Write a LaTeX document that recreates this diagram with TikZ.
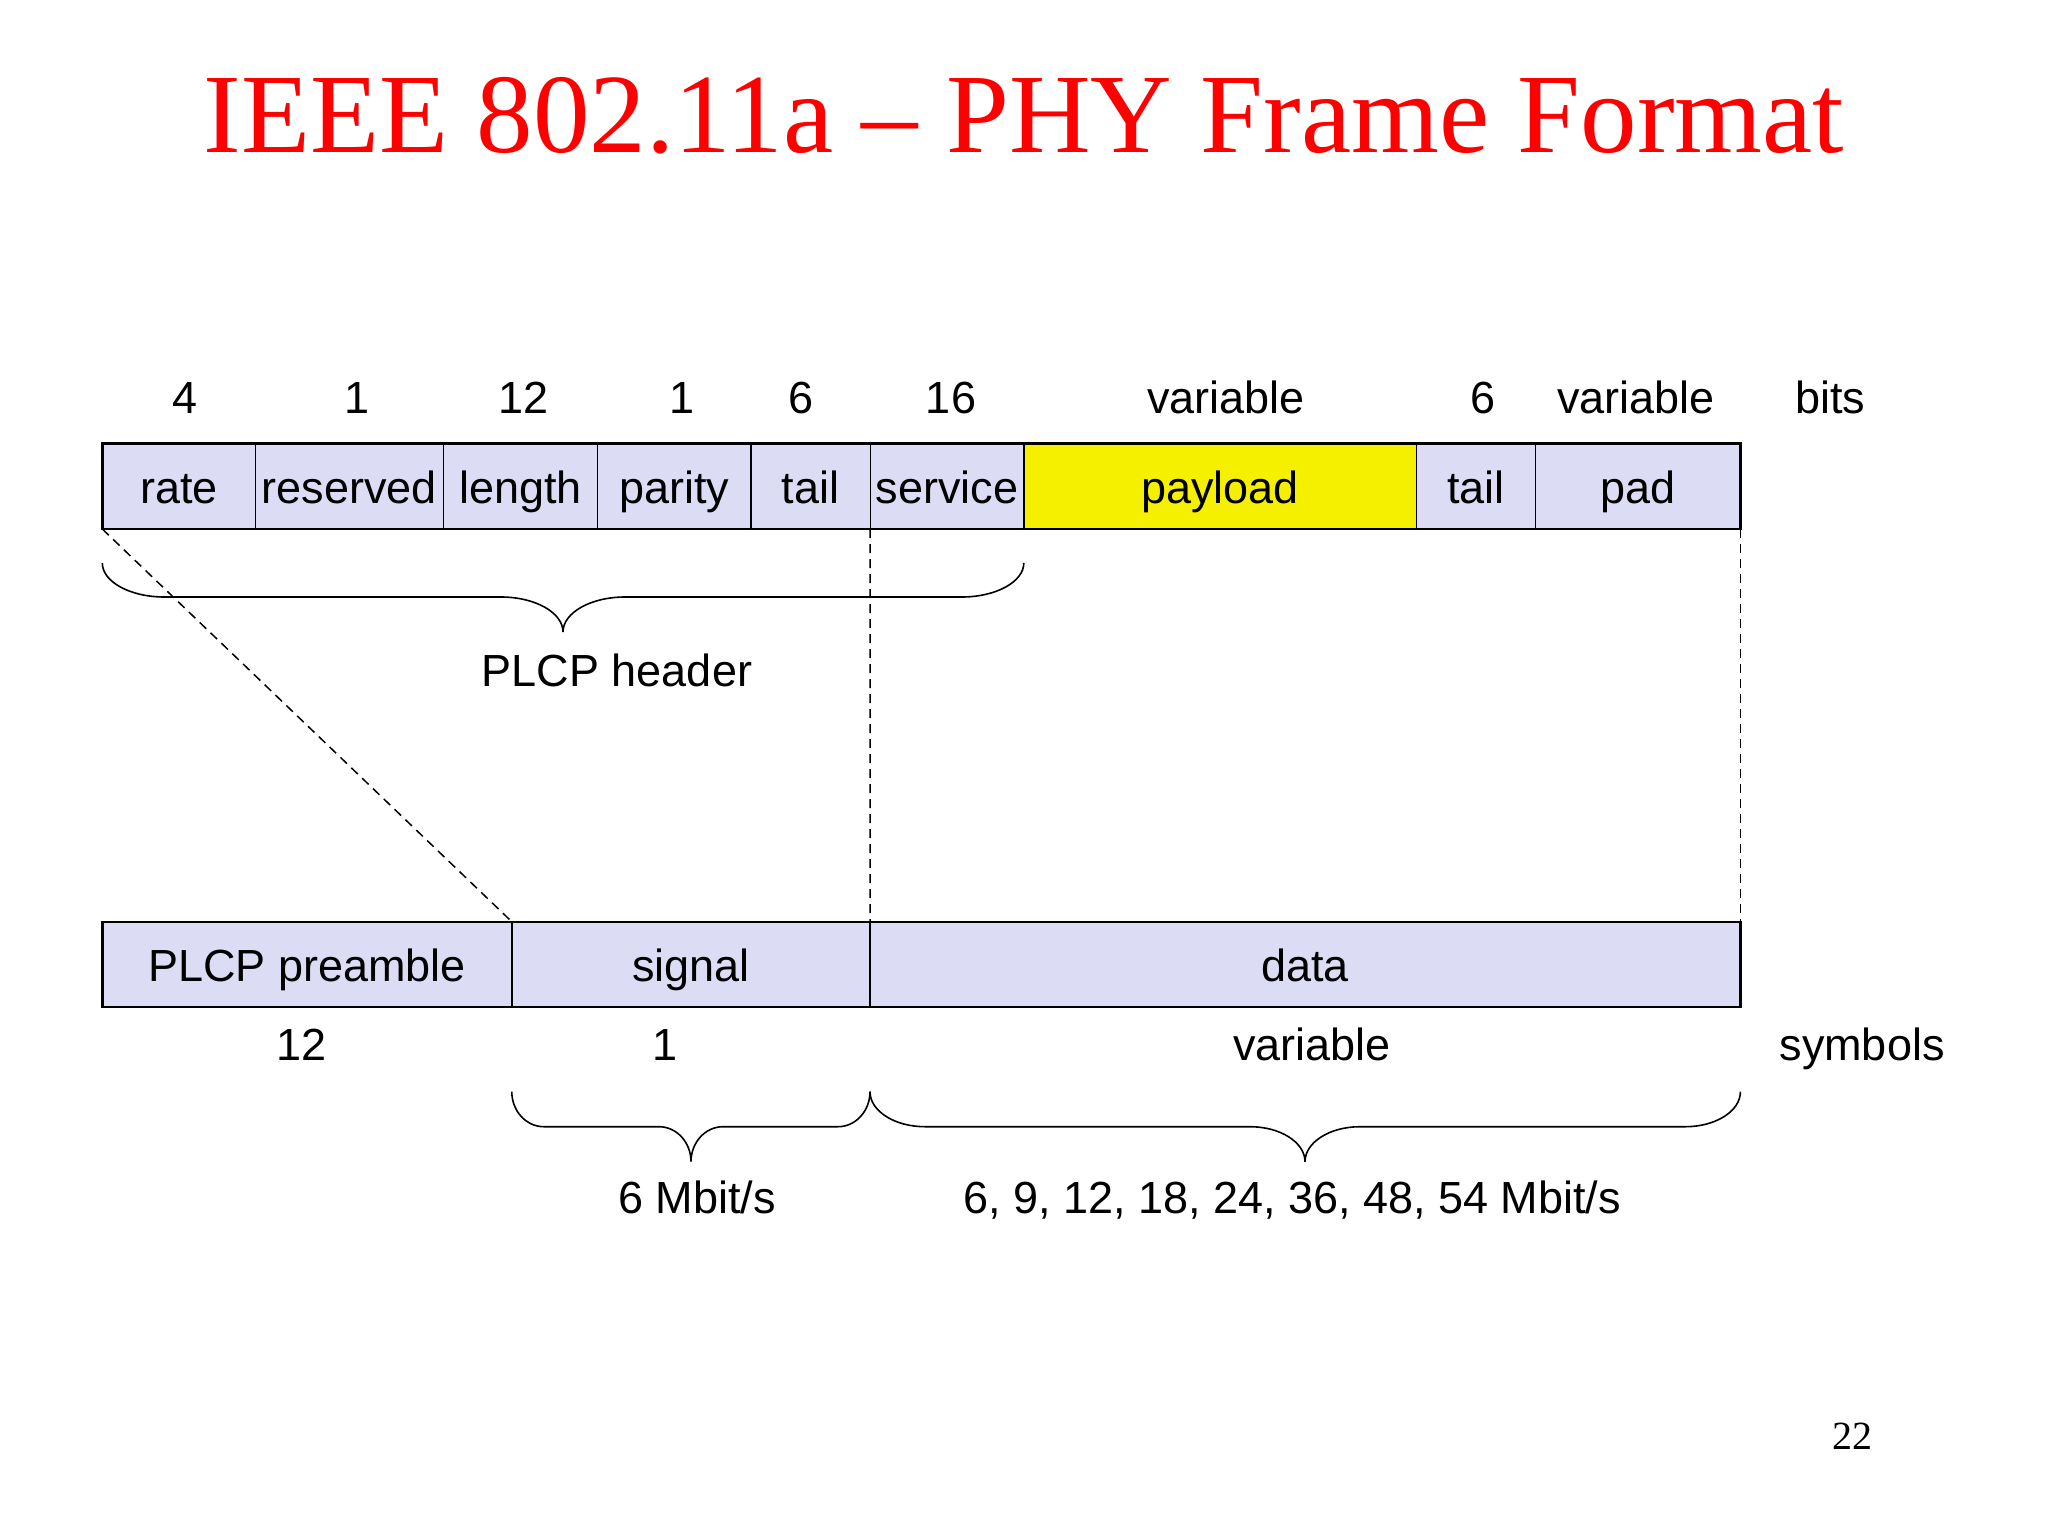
\documentclass[tikz,border=0pt]{standalone}
\usepackage{fontspec}
\setmainfont{Liberation Sans}
\newfontfamily\serfnt{Liberation Serif}
\definecolor{lav}{RGB}{220,220,244}
\definecolor{yel}{RGB}{245,240,0}
\newcommand{\fs}{\fontsize{45}{54}\selectfont}
\newcommand{\ttlfs}{\serfnt\fontsize{113}{120}\selectfont}
\newcommand{\pgfs}{\serfnt\fontsize{40}{48}\selectfont}
\newcommand{\pbrace}[7]{%
 \draw[brc] (#1,#4) .. controls (#1,{#4+0.552*(#5-#4)}) and ({#1+0.448*#7},#5) .. ({#1+#7},#5)
 -- ({#3-#7},#5) .. controls ({#3-0.448*#7},#5) and (#3,{#6-0.552*(#6-#5)}) .. (#3,#6)
 .. controls (#3,{#6-0.552*(#6-#5)}) and ({#3+0.448*#7},#5) .. ({#3+#7},#5)
 -- ({#2-#7},#5) .. controls ({#2-0.448*#7},#5) and (#2,{#4+0.552*(#5-#4)}) .. (#2,#4);}
\tikzset{
 cell/.style={draw, line width=1.4pt, fill=lav, inner sep=0pt, outer sep=0pt,
   text height=34pt, text depth=0pt, font=\fs},
 toprow/.style={cell, minimum height=85.7pt},
 botrow/.style={cell, minimum height=85pt},
 lbl/.style={anchor=base, inner sep=0pt, font=\fs},
 dsh/.style={line width=1.5pt, dash pattern=on 9pt off 6pt},
 brc/.style={line width=1.6pt},
 frame/.style={line width=2.4pt}
}
\begin{document}
\begin{tikzpicture}[x=1pt,y=-1pt]
\useasboundingbox (0,0) rectangle (2048,1536);
\fill[white] (0,0) rectangle (2048,1536);
% title
\node[anchor=base, inner sep=0pt, text=red, font=\ttlfs] (title) at (1024,153) {IEEE 802.11a – PHY Frame Format};
\node[anchor=base, inner sep=0pt, font=\pgfs] (pgno) at (1852,1449) {22};
% top row
\node[toprow, minimum width=153.1pt] (rate) at (178.85,486.15) {rate};
\node[toprow, minimum width=188.1pt] (reserved) at (349.45,486.15) {reserved};
\node[toprow, minimum width=153.7pt] (length) at (520.35,486.15) {length};
\node[toprow, minimum width=153.7pt] (parity) at (674.05,486.15) {parity};
\node[toprow, minimum width=119.3pt] (tail) at (810.55,486.15) {tail};
\node[toprow, minimum width=153.6pt] (service) at (947,486.15) {service};
\node[toprow, minimum width=392.7pt, fill=yel] (payload) at (1220.15,486.15) {payload};
\node[toprow, minimum width=119.2pt] (tailb) at (1476.1,486.15) {tail};
\node[toprow, minimum width=204.7pt] (pad) at (1638.05,486.15) {pad};
\draw[frame] (rate.north west) rectangle (pad.south east);
% bit counts
\node[lbl] (n1) at (185,413) {4};
\node[lbl] (n2) at (357,413) {1};
\node[lbl] (n3) at (524,413) {12};
\node[lbl] (n4) at (682,413) {1};
\node[lbl] (n5) at (801,413) {6};
\node[lbl] (n6) at (951,413) {16};
\node[lbl] (n7) at (1226,413) {variable};
\node[lbl] (n8) at (1483,413) {6};
\node[lbl] (n9) at (1636,413) {variable};
\node[lbl] (bits) at (1830,413) {bits};
% bottom row
\node[botrow, minimum width=409.5pt] (preamble) at (307.05,964.2) {PLCP preamble};
\node[botrow, minimum width=358.2pt] (signal) at (690.9,964.2) {signal};
\node[botrow, minimum width=870.4pt] (data) at (1305.2,964.2) {data};
\draw[frame] (preamble.north west) rectangle (data.south east);
% symbol counts
\node[lbl] (s1) at (302,1060) {12};
\node[lbl] (s2) at (665,1060) {1};
\node[lbl] (s3) at (1312,1060) {variable};
\node[lbl] (symbols) at (1862,1060) {symbols};
% dashed connectors
\draw[dsh] (rate.south west) -- (signal.north west);
\draw[dsh] (service.south west) -- (data.north west);
\draw[dsh] (pad.south east) -- (data.north east);
% braces
\pbrace{102.3}{1023.8}{563}{563}{597}{632}{62}
\pbrace{511.8}{870}{691}{1091.7}{1126.7}{1161.7}{32}
\pbrace{870}{1740.4}{1305}{1091.7}{1126.7}{1161.7}{55}
\node[lbl] (hdr) at (617,686) {PLCP header};
\node[lbl] (r1) at (697,1213) {6 Mbit/s};
\node[lbl] (r2) at (1292,1213) {6, 9, 12, 18, 24, 36, 48, 54 Mbit/s};
\end{tikzpicture}
\end{document}
